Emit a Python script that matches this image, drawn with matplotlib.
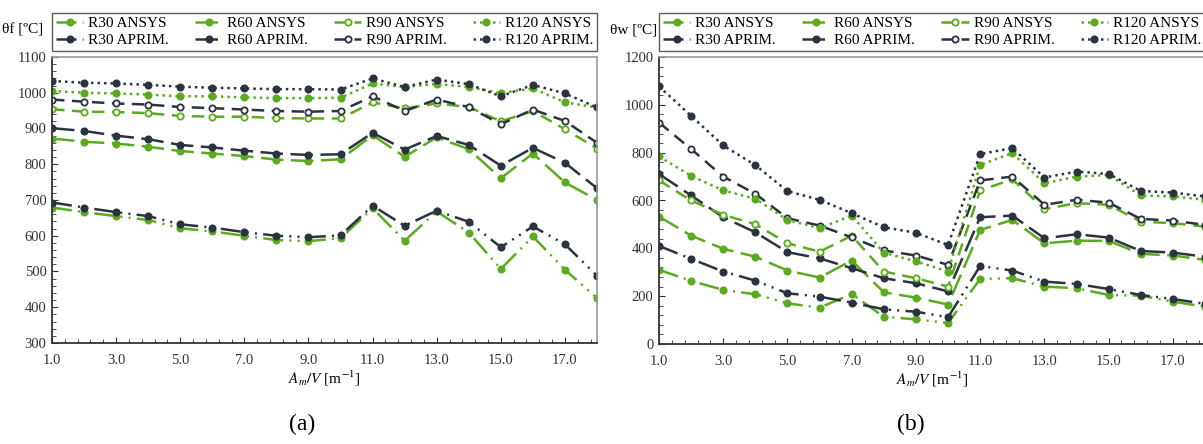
import numpy as np
import matplotlib
matplotlib.use("Agg")
import matplotlib.pyplot as plt
from matplotlib.ticker import MultipleLocator, FixedLocator, FormatStrFormatter

plt.rcParams['font.family'] = ['Liberation Serif', 'DejaVu Serif']
plt.rcParams['mathtext.fontset'] = 'stix'

# дані
x = np.arange(1, 19)

# (a) температура полиці θf
f_r30_ansys = [679, 666, 655, 644, 621, 612, 600, 588, 585, 593, 677, 586, 668, 609, 507, 598, 505, 426]
f_r30_aprim = [693, 679, 666, 655, 632, 623, 610, 600, 596, 601, 684, 628, 670, 639, 568, 626, 576, 488]
f_r60_ansys = [872, 863, 858, 849, 837, 830, 823, 813, 809, 814, 881, 821, 875, 842, 761, 830, 749, 700]
f_r60_aprim = [901, 893, 880, 870, 854, 847, 838, 830, 826, 828, 888, 841, 879, 854, 796, 846, 804, 733]
f_r90_ansys = [954, 947, 946, 943, 935, 933, 933, 929, 928, 928, 973, 956, 970, 960, 920, 949, 898, 844]
f_r90_aprim = [981, 975, 970, 967, 960, 957, 953, 949, 947, 949, 990, 949, 981, 960, 912, 953, 921, 860]
f_r120_ansys = [1005, 1000, 998, 995, 990, 990, 987, 985, 985, 986, 1026, 1016, 1025, 1016, 999, 1012, 973, 959]
f_r120_aprim = [1033, 1028, 1026, 1022, 1017, 1014, 1012, 1010, 1010, 1009, 1040, 1016, 1037, 1024, 990, 1022, 998, 959]

# (b) температура стінки θw
w_r30_ansys = [310, 264, 226, 208, 170, 152, 209, 114, 103, 88, 272, 275, 240, 233, 205, 202, 177, 156]
w_r30_aprim = [410, 356, 303, 265, 212, 198, 173, 145, 135, 112, 326, 307, 261, 251, 230, 205, 188, 168]
w_r60_ansys = [533, 453, 398, 365, 307, 278, 349, 216, 194, 165, 477, 519, 421, 432, 431, 377, 370, 352]
w_r60_aprim = [711, 621, 530, 467, 384, 358, 317, 275, 254, 220, 530, 537, 442, 459, 445, 389, 382, 365]
w_r90_ansys = [684, 600, 540, 501, 421, 386, 453, 303, 275, 240, 642, 689, 564, 589, 582, 512, 505, 491]
w_r90_aprim = [926, 815, 700, 628, 526, 495, 446, 391, 370, 331, 684, 700, 582, 603, 591, 523, 516, 498]
w_r120_ansys = [784, 703, 642, 607, 519, 484, 537, 382, 345, 303, 749, 798, 672, 700, 707, 621, 617, 603]
w_r120_aprim = [1077, 954, 830, 748, 639, 603, 547, 488, 465, 414, 794, 819, 696, 721, 711, 640, 633, 617]

xticks = [1, 3, 5, 7, 9, 11, 13, 15, 17]

green = '#5aab1e'
dark = '#2c3340'

# стилі ліній для кожного R
styles = {
    'R30': ((0, (8, 2.5, 0.8, 2.5, 0.8, 2.5)), True),
    'R60': ((0, (9, 3)), True),
    'R90': ((0, (5, 3)), False),
    'R120': ((0, (1, 1.6)), True),
}


def draw(ax, series):
    handles = []
    for name, ansys, aprim in series:
        ls, filled = styles[name]
        for vals, col, lab in [(ansys, green, name + ' ANSYS'), (aprim, dark, name + ' APRIM.')]:
            h, = ax.plot(x, vals, color=col, lw=1.8, linestyle=ls, marker='o',
                         markersize=4.5, markeredgewidth=1.3, markeredgecolor=col,
                         markerfacecolor=col if filled else 'white', label=lab)
            handles.append(h)
    ax.set_xlim(1, 18)
    ax.xaxis.set_major_locator(FixedLocator(xticks))
    ax.xaxis.set_minor_locator(FixedLocator(np.arange(1, 18.01, 0.4)))
    ax.xaxis.set_major_formatter(FormatStrFormatter('%.1f'))
    ax.tick_params(which='both', direction='in', colors='#333333', labelsize=10.5)
    ax.tick_params(which='major', length=4)
    ax.tick_params(which='minor', length=3)
    ax.tick_params(axis='x', which='major', pad=8)
    for s in ['left', 'bottom']:
        ax.spines[s].set_color('#333333')
        ax.spines[s].set_linewidth(1.3)
    for s in ['top', 'right']:
        ax.spines[s].set_color('#9a9a9a')
        ax.spines[s].set_linewidth(1.2)
    ax.set_xlabel(r'$A_m/V$ [m$^{-1}$]', fontsize=11, labelpad=1)
    return handles


W, H = 1203, 444
fig = plt.figure(figsize=(W / 100, H / 100), dpi=100)

ax1 = fig.add_axes([52 / W, 1 - 343 / H, 545 / W, 286 / H])
ax2 = fig.add_axes([659 / W, 1 - 344 / H, 546 / W, 287 / H])

h1 = draw(ax1, [('R30', f_r30_ansys, f_r30_aprim), ('R60', f_r60_ansys, f_r60_aprim),
                ('R90', f_r90_ansys, f_r90_aprim), ('R120', f_r120_ansys, f_r120_aprim)])
h2 = draw(ax2, [('R30', w_r30_ansys, w_r30_aprim), ('R60', w_r60_ansys, w_r60_aprim),
                ('R90', w_r90_ansys, w_r90_aprim), ('R120', w_r120_ansys, w_r120_aprim)])

ax1.set_ylim(300, 1100)
ax1.yaxis.set_major_locator(MultipleLocator(100))
ax1.yaxis.set_minor_locator(MultipleLocator(20))
ax2.set_ylim(0, 1200)
ax2.yaxis.set_major_locator(MultipleLocator(200))
ax2.yaxis.set_minor_locator(MultipleLocator(40))
for ax in (ax1, ax2):
    ax.tick_params(axis='y', which='major', pad=4)

# легенди над графіками
for hs, left, wdt in [(h1, 52, 545), (h2, 659, 546)]:
    leg = fig.legend(handles=hs, ncol=4, loc='lower left', mode='expand',
                     bbox_to_anchor=(left / W, 1 - 51 / H, wdt / W, 42 / H),
                     fontsize=11, frameon=True, fancybox=False, edgecolor='#333333',
                     handlelength=1.8, handletextpad=0.3, borderpad=0.25,
                     labelspacing=0.2, borderaxespad=0)
    leg.get_frame().set_linewidth(1.0)

fig.text(2 / W, 1 - 30 / H, 'θf [ºC]', fontsize=11, ha='left', va='center')
fig.text(657 / W, 1 - 30 / H, 'θw [ºC]', fontsize=11, ha='right', va='center')

fig.text(302 / W, 1 - 424 / H, '(a)', fontsize=17, ha='center', va='center')
fig.text(911 / W, 1 - 424 / H, '(b)', fontsize=17, ha='center', va='center')

fig.savefig('out.png', dpi=100)
